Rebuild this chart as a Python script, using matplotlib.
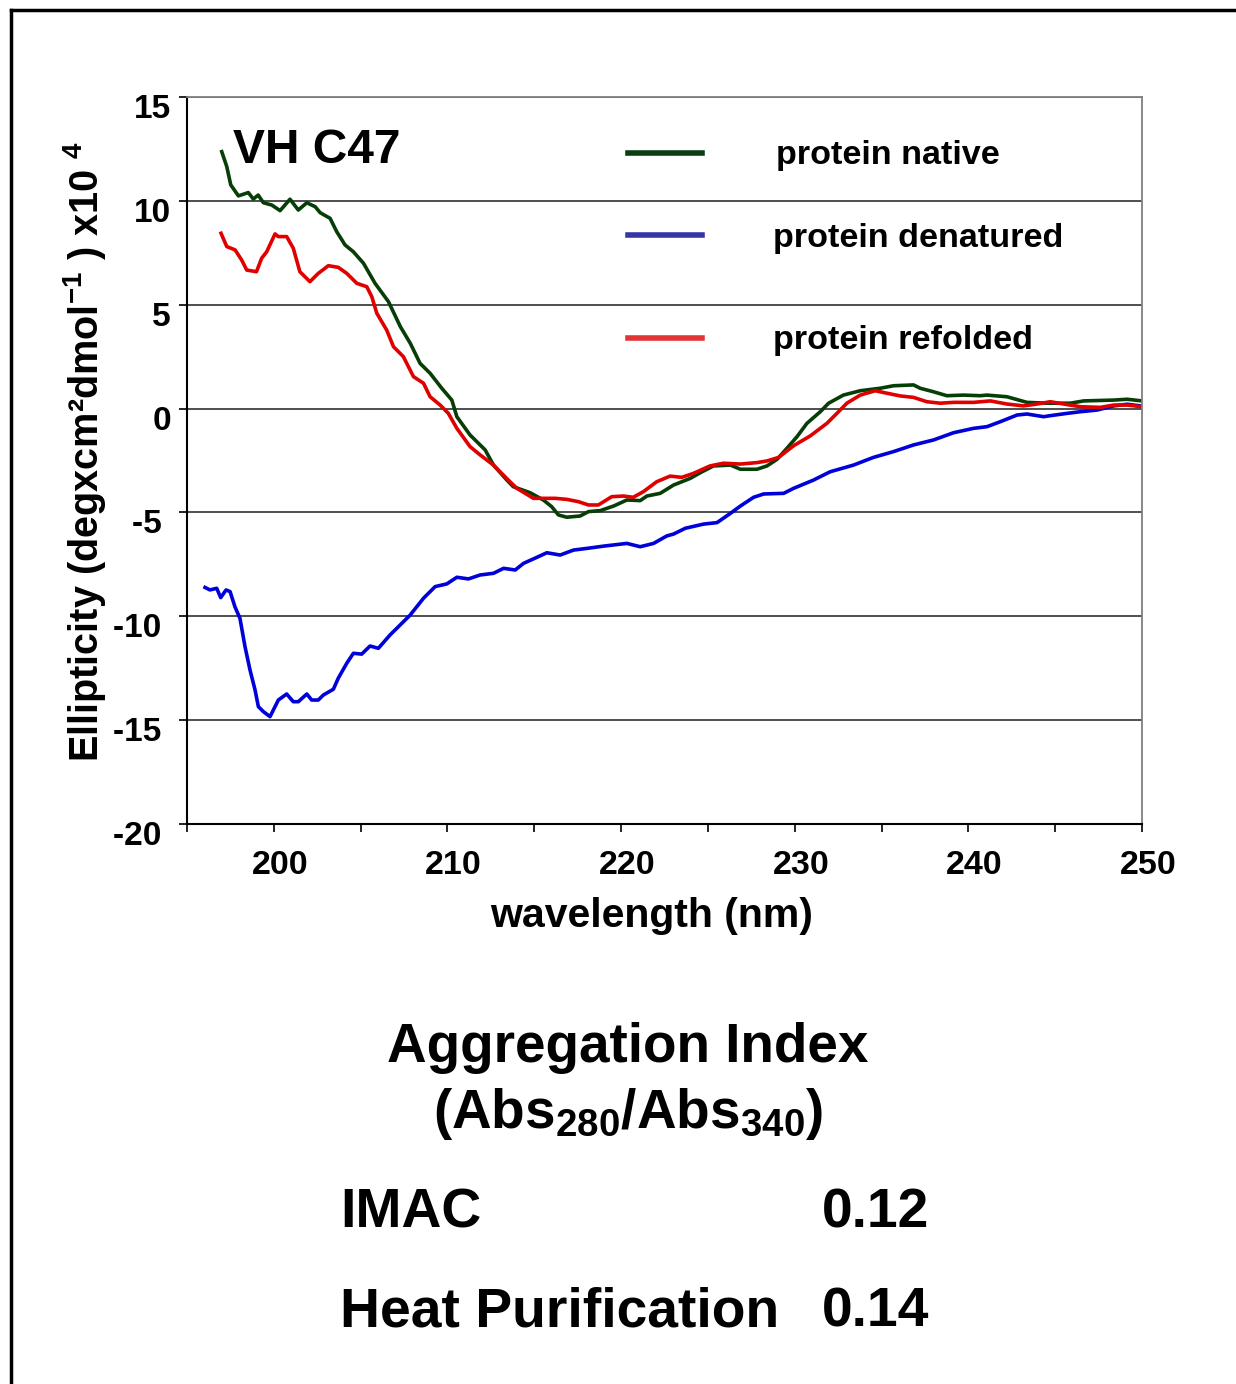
import matplotlib
matplotlib.use('Agg')
import matplotlib.pyplot as plt
import matplotlib.transforms as mtransforms
from matplotlib.lines import Line2D

plt.rcParams['font.family'] = ['Liberation Sans', 'DejaVu Sans']
plt.rcParams['font.weight'] = 'bold'
plt.rcParams['axes.unicode_minus'] = False
plt.rcParams['mathtext.fontset'] = 'custom'
plt.rcParams['mathtext.rm'] = 'Liberation Sans:bold'
plt.rcParams['mathtext.bf'] = 'Liberation Sans:bold'
plt.rcParams['mathtext.default'] = 'bf'

# CD spectra (ellipticity x10^4)
native_wl = [197.0, 197.29, 197.52, 197.96, 198.53, 198.82, 199.1, 199.4, 199.88, 200.36,
             200.93, 201.41, 201.9, 202.38, 202.67, 203.24, 203.62, 204.1, 204.58, 205.16,
             205.83, 206.6, 207.29, 207.86, 208.42, 209.0, 209.67, 210.25, 210.54, 211.3,
             212.17, 212.65, 213.42, 213.79, 214.76, 215.52, 216.0, 216.39, 216.87, 217.64,
             218.12, 218.8, 219.57, 220.33, 221.1, 221.48, 222.25, 223.02, 223.98, 224.55,
             225.32, 226.3, 226.87, 227.82, 228.4, 228.98, 229.55, 230.13, 230.7, 231.47,
             231.95, 232.8, 233.77, 234.92, 235.69, 236.84, 237.22, 237.99, 238.76, 239.72,
             240.68, 241.07, 242.22, 243.37, 244.53, 245.87, 246.64, 248.37, 249.14, 250.0]
native_val = [12.37, 11.65, 10.77, 10.24, 10.40, 10.09, 10.28, 9.91, 9.80, 9.53,
              10.08, 9.56, 9.91, 9.72, 9.43, 9.16, 8.52, 7.88, 7.55, 7.0,
              6.03, 5.15, 3.94, 3.14, 2.18, 1.70, 0.98, 0.41, -0.39, -1.27,
              -1.99, -2.72, -3.44, -3.76, -4.05, -4.40, -4.72, -5.12, -5.23, -5.17,
              -4.96, -4.91, -4.69, -4.40, -4.43, -4.21, -4.08, -3.68, -3.36, -3.09,
              -2.76, -2.72, -2.92, -2.92, -2.76, -2.44, -1.91, -1.35, -0.71, -0.15,
              0.26, 0.65, 0.86, 0.98, 1.10, 1.14, 0.98, 0.81, 0.62, 0.65,
              0.62, 0.65, 0.57, 0.30, 0.26, 0.26, 0.37, 0.41, 0.45, 0.37]

denat_wl = [196.04, 196.32, 196.71, 196.94, 197.25, 197.48, 197.76, 198.05, 198.34, 198.63,
            198.92, 199.11, 199.4, 199.78, 200.26, 200.74, 201.12, 201.41, 201.9, 202.18,
            202.56, 202.85, 203.43, 203.71, 204.2, 204.58, 205.06, 205.54, 206.02, 206.69,
            207.27, 207.85, 208.62, 209.29, 209.96, 210.54, 211.21, 211.88, 212.65, 213.23,
            213.9, 214.38, 215.15, 215.72, 216.49, 217.26, 218.03, 219.0, 220.33, 221.1,
            221.87, 222.63, 223.02, 223.7, 224.75, 225.52, 226.3, 226.87, 227.63, 228.21,
            229.36, 229.93, 231.08, 232.04, 233.38, 234.53, 235.69, 236.84, 237.99, 239.15,
            240.3, 241.07, 241.84, 242.8, 243.37, 244.33, 244.72, 245.68, 246.45, 247.41,
            248.37, 249.14, 250.0]
denat_val = [-8.61, -8.73, -8.65, -9.10, -8.73, -8.81, -9.54, -10.10, -11.46, -12.59,
             -13.55, -14.35, -14.59, -14.83, -14.03, -13.74, -14.11, -14.11, -13.74, -14.03,
             -14.03, -13.79, -13.51, -12.98, -12.26, -11.78, -11.82, -11.43, -11.54, -10.90,
             -10.42, -9.94, -9.13, -8.57, -8.44, -8.12, -8.20, -8.01, -7.93, -7.69,
             -7.77, -7.45, -7.16, -6.94, -7.05, -6.81, -6.73, -6.62, -6.49, -6.65,
             -6.49, -6.13, -6.04, -5.76, -5.56, -5.49, -5.04, -4.69, -4.27, -4.11,
             -4.08, -3.84, -3.44, -3.04, -2.72, -2.35, -2.07, -1.75, -1.51, -1.16,
             -0.95, -0.87, -0.63, -0.31, -0.26, -0.39, -0.34, -0.23, -0.15, -0.07,
             0.13, 0.21, 0.12]

refold_wl = [196.96, 197.29, 197.77, 198.15, 198.44, 199.0, 199.3, 199.59, 200.07, 200.26,
             200.74, 201.12, 201.5, 202.08, 202.56, 203.14, 203.71, 204.2, 204.78, 205.35,
             205.64, 205.93, 206.5, 206.89, 207.46, 208.04, 208.62, 209.0, 209.58, 210.05,
             210.54, 211.3, 211.88, 212.65, 213.6, 214.0, 214.95, 216.2, 216.87, 217.54,
             218.12, 218.69, 219.46, 220.13, 220.7, 221.28, 222.05, 222.82, 223.49, 224.16,
             225.12, 225.89, 226.87, 227.82, 228.4, 229.07, 229.93, 230.9, 231.85, 232.52,
             233.0, 233.77, 234.63, 235.31, 236.07, 236.84, 237.61, 238.38, 239.15, 240.3,
             241.26, 242.22, 243.18, 243.95, 244.72, 245.49, 246.45, 247.6, 248.37, 249.14,
             250.0]
refold_val = [8.44, 7.80, 7.64, 7.15, 6.67, 6.59, 7.24, 7.55, 8.41, 8.28,
              8.28, 7.72, 6.59, 6.11, 6.51, 6.88, 6.80, 6.51, 6.03, 5.87,
              5.39, 4.59, 3.78, 2.98, 2.50, 1.54, 1.22, 0.57, 0.17, -0.23,
              -0.95, -1.83, -2.23, -2.72, -3.52, -3.84, -4.32, -4.32, -4.37, -4.48,
              -4.64, -4.64, -4.24, -4.21, -4.27, -4.0, -3.52, -3.25, -3.31, -3.12,
              -2.76, -2.63, -2.67, -2.60, -2.52, -2.35, -1.79, -1.31, -0.71, -0.15,
              0.26, 0.65, 0.86, 0.74, 0.61, 0.54, 0.33, 0.26, 0.30, 0.30,
              0.37, 0.22, 0.13, 0.22, 0.33, 0.22, 0.09, 0.06, 0.17, 0.17,
              0.09]

y_ticks = [-20, -15, -10, -5, 0, 5, 10, 15]
# negative labels in the original sit a little further left (trailing space)
y_tick_labels = ['-20 ', '-15 ', '-10 ', '-5 ', '0', '5', '10', '15']
legend_labels = ['protein native', 'protein denatured', 'protein refolded']
agg_methods = ['IMAC', 'Heat Purification']
agg_values = ['0.12', '0.14']

fig = plt.figure(figsize=(12.36, 13.84), dpi=100)
ax = fig.add_axes([0.1513, 0.4046, 0.7727, 0.5253])

# gridlines first so the curves sit on top
ax.set_axisbelow(True)
ax.yaxis.grid(True, color='#404040', linewidth=1.3)

ax.plot(native_wl, native_val, color='#073d07', linewidth=2.6)
ax.plot(denat_wl, denat_val, color='#0000d8', linewidth=2.6)
ax.plot(refold_wl, refold_val, color='#e00000', linewidth=2.6)

ax.set_xlim(195, 250)
ax.set_ylim(-20, 15)
ax.set_xticks(range(200, 251, 10))
ax.set_xticks(range(195, 250, 10), minor=True)
ax.set_yticks(y_ticks)
ax.set_yticklabels(y_tick_labels)

ax.tick_params(axis='both', which='both', direction='out', length=6, width=1.2, color='black')
ax.tick_params(axis='x', labelsize=24.5, pad=13)
ax.tick_params(axis='y', labelsize=24, pad=7)

# nudge tick labels like the original (x right, y down)
for lab in ax.get_xticklabels():
    lab.set_fontweight('bold')
    lab.set_transform(lab.get_transform() + mtransforms.ScaledTranslation(0.06, 0, fig.dpi_scale_trans))
for lab in ax.get_yticklabels():
    lab.set_fontweight('bold')
    lab.set_transform(lab.get_transform() + mtransforms.ScaledTranslation(0.02, -0.09, fig.dpi_scale_trans))

ax.spines['left'].set_color('black')
ax.spines['bottom'].set_color('black')
ax.spines['left'].set_linewidth(1.5)
ax.spines['bottom'].set_linewidth(1.5)
ax.spines['top'].set_color('#808080')
ax.spines['right'].set_color('#808080')
ax.spines['top'].set_linewidth(1.3)
ax.spines['right'].set_linewidth(1.3)

ax.set_xlabel('wavelength (nm)', fontsize=29.5, fontweight='bold')
ax.xaxis.set_label_coords(0.486, -0.101)
ax.set_ylabel('Ellipticity (degxcm\u00b2dmol$^{-1}$ ) x10 $^{4}$', fontsize=28.5,
              fontweight='bold', va='center')
ax.yaxis.set_label_coords(-0.107, 0.512)

ax.text(0.048, 0.927, 'VH C47', transform=ax.transAxes, fontsize=34.5,
        fontweight='bold', va='center', ha='left')

# hand-placed legend, as in the original
legend_colors = ['#0b3d12', '#3535a8', '#e23434']
legend_y = [0.923, 0.810, 0.6685]
legend_text_x = [0.6168, 0.6136, 0.6136]
for lab, col, ly, tx in zip(legend_labels, legend_colors, legend_y, legend_text_x):
    ax.add_line(Line2D([0.4618, 0.5393], [ly, ly], transform=ax.transAxes,
                       color=col, linewidth=4))
    ax.text(tx, ly - 0.004, lab, transform=ax.transAxes, fontsize=24.6,
            fontweight='bold', va='center', ha='left')

# aggregation index block below the chart
fig.text(0.508, 0.2327, 'Aggregation Index', fontsize=39.5, fontweight='bold',
         ha='center', va='baseline')
fig.text(0.508, 0.185, '(Abs$_{280}$/Abs$_{340}$)', fontsize=39.5, fontweight='bold',
         ha='center', va='baseline')
row_y = [0.1134, 0.0412]
for name, val, ry in zip(agg_methods, agg_values, row_y):
    fig.text(0.275, ry, name, fontsize=39.8, fontweight='bold', ha='left', va='baseline')
    fig.text(0.665, ry, val, fontsize=39.8, fontweight='bold', ha='left', va='baseline')

# frame lines on the top and left edges of the page
fig.add_artist(Line2D([0.0089, 0.0089], [0.0, 0.9925], transform=fig.transFigure,
                      color='black', linewidth=2.5))
fig.add_artist(Line2D([0.0089, 1.0], [0.9925, 0.9925], transform=fig.transFigure,
                      color='black', linewidth=2.5))

fig.savefig('out.png', dpi=100, facecolor='white')
